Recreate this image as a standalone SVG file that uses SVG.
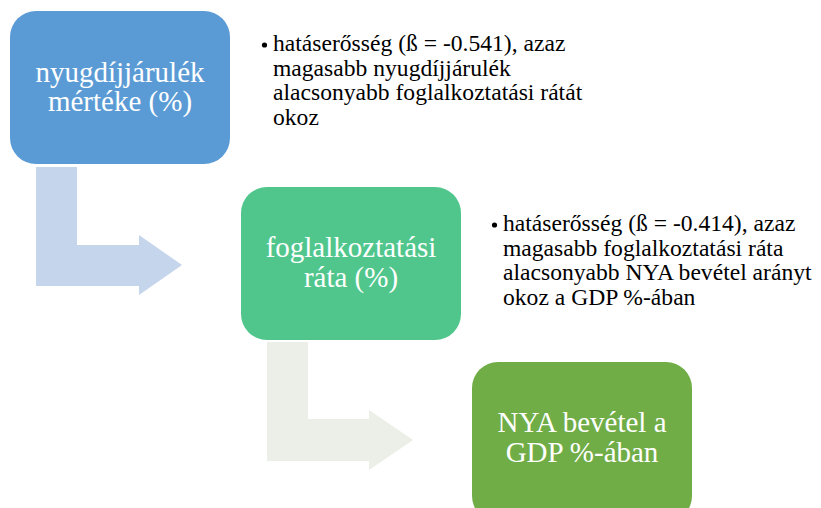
<svg xmlns="http://www.w3.org/2000/svg" width="821" height="508" viewBox="0 0 821 508">
<style>
.box-text{font-size:29px;fill:#ffffff;text-anchor:middle}
.note{font-size:23.6px;fill:#000000}
</style>
<rect width="821" height="508" fill="#ffffff"/>
<g id="connectors">
<path d="M36,167 H77 V245 H139 V235 L182,265 L139,295 V286 H36 Z" fill="#C5D5EB"/>
<path d="M267,342 H308 V419 H369 V410 L413,440 L369,470 V461 H267 Z" fill="#EBEFE7"/>
</g>
<g id="node1" font-family="Liberation Serif, Times New Roman, serif">
<rect x="10" y="11" width="220" height="153" rx="26" fill="#5B9BD5"/>
<text class="box-text" x="120" y="82">nyugdíjjárulék</text>
<text class="box-text" x="120" y="111">mértéke (%)</text>
</g>
<g id="node2" font-family="Liberation Serif, Times New Roman, serif">
<rect x="241" y="187" width="220" height="153" rx="26" fill="#50C68D"/>
<text class="box-text" x="351" y="257">foglalkoztatási</text>
<text class="box-text" x="351" y="287">ráta (%)</text>
</g>
<g id="node3" font-family="Liberation Serif, Times New Roman, serif">
<rect x="472" y="362" width="220" height="160" rx="26" fill="#70AD47"/>
<text class="box-text" x="582" y="432">NYA bevétel a</text>
<text class="box-text" x="582" y="462">GDP %-ában</text>
</g>
<g id="note1" font-family="Liberation Serif, Times New Roman, serif">
<circle cx="264.5" cy="45" r="2.6" fill="#000000"/>
<text class="note" x="273" y="51">hatáserősség (ß = -0.541), azaz</text>
<text class="note" x="273" y="75.5">magasabb nyugdíjjárulék</text>
<text class="note" x="273" y="100">alacsonyabb foglalkoztatási rátát</text>
<text class="note" x="273" y="124.5">okoz</text>
</g>
<g id="note2" font-family="Liberation Serif, Times New Roman, serif">
<circle cx="494.5" cy="225" r="2.6" fill="#000000"/>
<text class="note" x="503" y="231">hatáserősség (ß = -0.414), azaz</text>
<text class="note" x="503" y="255.5">magasabb foglalkoztatási ráta</text>
<text class="note" x="503" y="280">alacsonyabb NYA bevétel arányt</text>
<text class="note" x="503" y="304.5">okoz a GDP %-ában</text>
</g>
</svg>
